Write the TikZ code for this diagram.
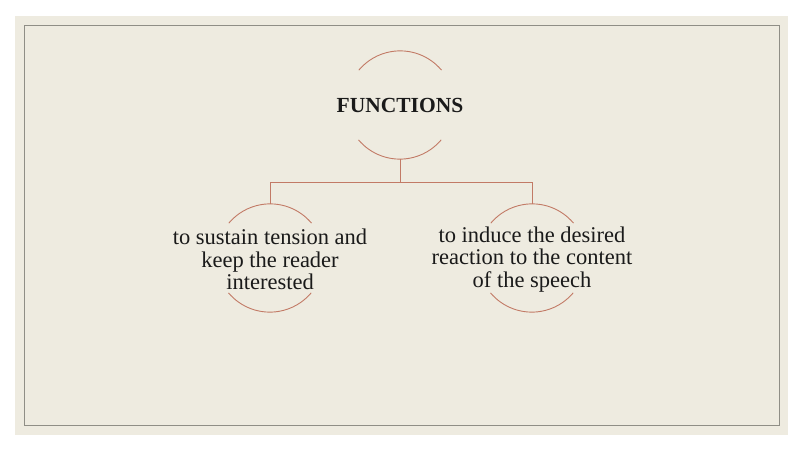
\documentclass[tikz,border=0pt]{standalone}
\usepackage{fontspec}
\setmainfont{Liberation Serif}
\definecolor{bg}{HTML}{EEEBE0}
\definecolor{frame}{HTML}{8F8E86}
\definecolor{arcc}{HTML}{C27A66}
\definecolor{ink}{HTML}{1A1A1A}
\tikzset{
  ring/.style={circle, minimum size=108pt, inner sep=0pt, draw=none},
  lbl/.style={align=center, text=ink, inner sep=0pt, font=\fontsize{22.5}{22.5}\selectfont},
  toplbl/.style={text=ink, inner sep=0pt, font=\fontsize{21.5}{24}\selectfont\bfseries},
  arcline/.style={draw=arcc, line width=0.9pt},
  conn/.style={draw=arcc, line width=0.9pt}
}
\begin{document}
\begin{tikzpicture}[x=1pt,y=1pt]
\useasboundingbox (0,0) rectangle (800,450);
\fill[white] (0,0) rectangle (800,450);
\fill[bg] (15,15) rectangle (788,434);
\draw[frame, line width=0.9pt] (24,25) rectangle (779.5,424.5);

\node[ring] (f) at (400,345) {};
\node[toplbl] (ft) at (f) {FUNCTIONS};
\node[ring] (a) at (270,192) {};
\node[lbl] (at) at ([yshift=-1.5pt]a.center) {to sustain tension and\\keep the reader\\interested};
\node[ring] (b) at (532,192) {};
\node[lbl] (bt) at ([yshift=-1.5pt]b.center) {to induce the desired\\reaction to the content\\of the speech};

\foreach \n in {f,a,b}{
  \draw[arcline] (\n.40) arc[start angle=40, end angle=140, radius=54pt];
  \draw[arcline] (\n.220) arc[start angle=220, end angle=320, radius=54pt];
}

\coordinate (bus) at (400,268);
\draw[conn] (f.south) -- (bus);
\draw[conn] (bus) -| (a.north);
\draw[conn] (bus) -| (b.north);
\end{tikzpicture}
\end{document}
